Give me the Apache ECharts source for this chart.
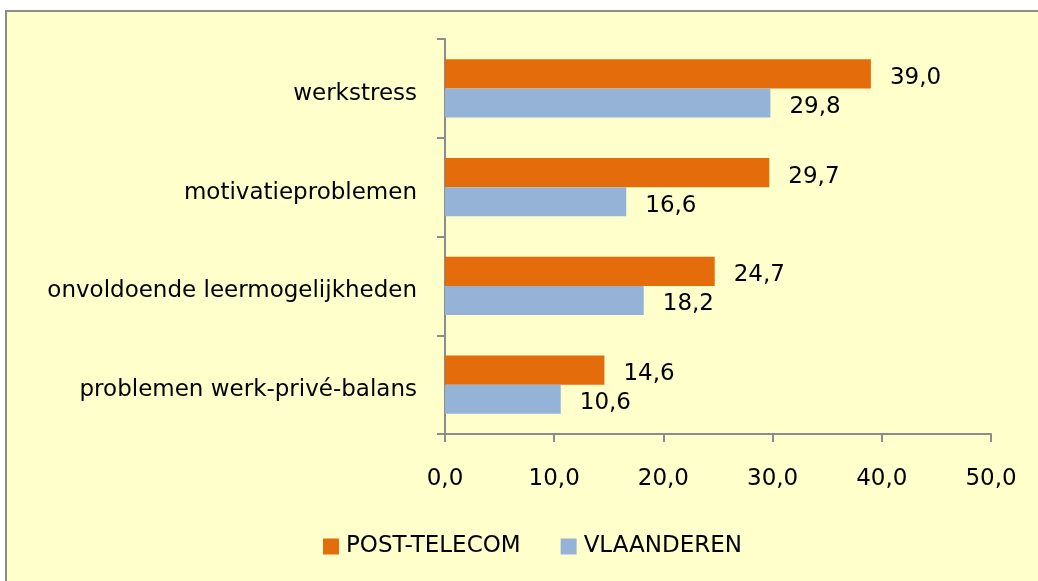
<!DOCTYPE html>
<html>
<head>
<meta charset="utf-8">
<script src="https://cdn.jsdelivr.net/npm/echarts@6/dist/echarts.min.js"></script>
<style>
html,body{margin:0;padding:0;background:#fff;}
#c{width:1038px;height:581px;}
</style>
</head>
<body>
<div id="c"></div>
<script>
var categories = ['werkstress', 'motivatieproblemen', 'onvoldoende leermogelijkheden', 'problemen werk-privé-balans'];
var postTelecom = [39.0, 29.7, 24.7, 14.6];
var vlaanderen = [29.8, 16.6, 18.2, 10.6];
var seriesNames = ['POST-TELECOM', 'VLAANDEREN'];

var FONT = 'DejaVu Sans';
function fmt(v){ return Number(v).toFixed(1).replace('.', ','); }

var chart = echarts.init(document.getElementById('c'), null, {renderer:'canvas'});
chart.setOption({
  animation: false,
  backgroundColor: '#ffffff',
  graphic: [{
    type: 'rect', z: -10, silent: true,
    shape: {x: 6, y: 11, width: 1100, height: 700},
    style: {fill: '#FFFFCC', stroke: '#8c8c8c', lineWidth: 2}
  }],
  legend: {
    left: 318, top: 530,
    itemWidth: 16, itemHeight: 16, itemGap: 40,
    icon: 'rect',
    textStyle: {fontFamily: FONT, fontSize: 23, color: '#000', padding: [0,0,0,2]},
    data: seriesNames
  },
  grid: {left: 445, right: 47, top: 39, bottom: 147, containLabel: false},
  xAxis: {
    type: 'value', min: 0, max: 50, interval: 10,
    axisLine: {show: true, lineStyle: {color: '#8c8c8c', width: 2}},
    axisTick: {show: true, length: 8, lineStyle: {color: '#8c8c8c', width: 2}},
    splitLine: {show: false},
    axisLabel: {formatter: fmt, fontFamily: FONT, fontSize: 23, color: '#000', margin: 34}
  },
  yAxis: {
    type: 'category', data: categories, inverse: true,
    axisLine: {show: true, lineStyle: {color: '#8c8c8c', width: 2}},
    axisTick: {show: true, length: 8, lineStyle: {color: '#8c8c8c', width: 2}},
    axisLabel: {
      fontFamily: FONT, fontSize: 23, color: '#000', margin: 28,
      formatter: function(v){ return '{a|' + v + '}'; },
      rich: {a: {fontFamily: FONT, fontSize: 23, color: '#000', padding: [11,0,0,0]}}
    }
  },
  series: [{
    name: seriesNames[0], type: 'bar', data: postTelecom,
    itemStyle: {color: '#E46C0A'},
    barGap: '0%', barCategoryGap: '41%',
    label: {show: true, position: 'right', distance: 19, offset: [0, 4], formatter: function(p){return fmt(p.value);},
      fontFamily: FONT, fontSize: 23, color: '#000'}
  }, {
    name: seriesNames[1], type: 'bar', data: vlaanderen,
    itemStyle: {color: '#95B3D7'},
    barGap: '0%', barCategoryGap: '41%',
    label: {show: true, position: 'right', distance: 19, offset: [0, 4], formatter: function(p){return fmt(p.value);},
      fontFamily: FONT, fontSize: 23, color: '#000'}
  }]
});
</script>
</body>
</html>
